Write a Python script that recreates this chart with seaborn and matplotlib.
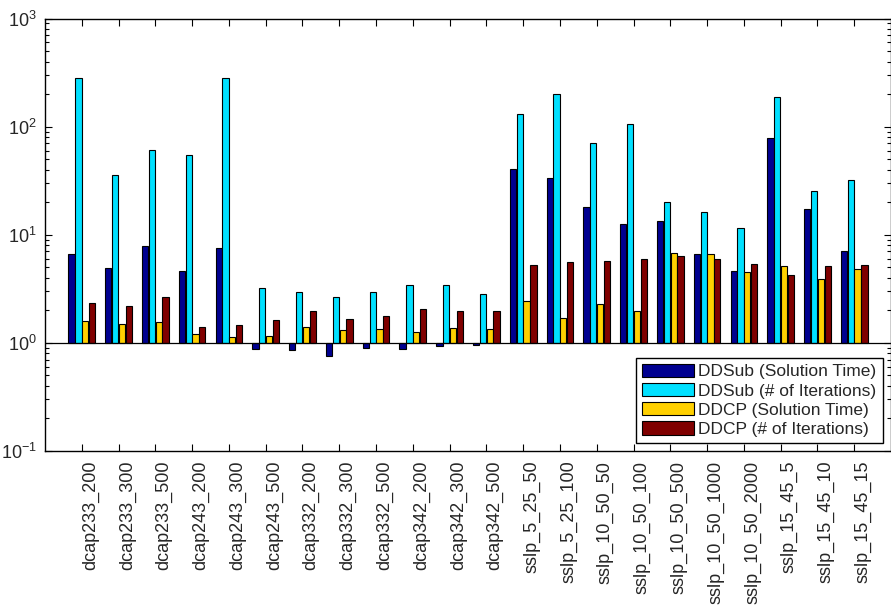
import numpy as np
import pandas as pd
import matplotlib
matplotlib.use("Agg")
import matplotlib.pyplot as plt
import matplotlib.ticker as mticker
import seaborn as sns

instances = ['dcap233_200', 'dcap233_300', 'dcap233_500', 'dcap243_200', 'dcap243_300',
             'dcap243_500', 'dcap332_200', 'dcap332_300', 'dcap332_500', 'dcap342_200',
             'dcap342_300', 'dcap342_500', 'sslp_5_25_50', 'sslp_5_25_100', 'sslp_10_50_50',
             'sslp_10_50_100', 'sslp_10_50_500', 'sslp_10_50_1000', 'sslp_10_50_2000',
             'sslp_15_45_5', 'sslp_15_45_10', 'sslp_15_45_15']

series_names = ['DDSub (Solution Time)', 'DDSub (# of Iterations)',
                'DDCP (Solution Time)', 'DDCP (# of Iterations)']

ddsub_time = [6.6, 4.9, 7.8, 4.6, 7.6, 0.87, 0.86, 0.75, 0.89, 0.87, 0.94,
              0.95, 40.6, 33.5, 18.0, 12.6, 13.5, 6.7, 4.6, 78.5, 17.3, 7.0]
ddsub_iter = [282, 35.4, 60.3, 54.7, 282, 3.23, 2.95, 2.65, 2.95, 3.42, 3.42,
              2.86, 131, 201, 71.1, 105, 20.3, 16.2, 11.5, 186, 25.2, 32.1]
ddcp_time = [1.60, 1.49, 1.57, 1.21, 1.13, 1.16, 1.39, 1.32, 1.34, 1.27, 1.37,
             1.34, 2.43, 1.70, 2.31, 1.99, 6.71, 6.67, 4.54, 5.13, 3.86, 4.81]
ddcp_iter = [2.36, 2.17, 2.67, 1.41, 1.47, 1.64, 1.99, 1.68, 1.77, 2.06, 1.98,
             1.98, 5.2, 5.62, 5.66, 6.03, 6.30, 6.03, 5.42, 4.20, 5.16, 5.24]

colors = ['#000090', '#00E0FF', '#FFD000', '#800000']

ytick_exponents = [-1, 0, 1, 2, 3]

rows = []
for name, vals in zip(series_names, [ddsub_time, ddsub_iter, ddcp_time, ddcp_iter]):
    for inst, v in zip(instances, vals):
        rows.append({'instance': inst, 'series': name, 'value': v})
df = pd.DataFrame(rows)
# bars drawn from the 10^0 baseline on a log10 value axis
df['log_value'] = np.log10(df['value'])

sns.set_style('ticks')
plt.rcParams['font.family'] = ['Liberation Sans', 'DejaVu Sans']
plt.rcParams['mathtext.default'] = 'regular'

fig = plt.figure(figsize=(8.91, 6.12), dpi=100)
ax = fig.add_axes([45 / 891, 1 - 451 / 612, 1 - 45 / 891, (451 - 18.5) / 612])

sns.barplot(data=df, x='instance', y='log_value', hue='series', order=instances,
            hue_order=series_names, palette=colors, saturation=1, width=0.74, gap=0.08,
            edgecolor='black', linewidth=0.8, ax=ax, legend=True)

ax.set_xlim(-1, len(instances))
ax.set_ylim(-1, 3)
ax.axhline(0, color='black', lw=0.9, zorder=3)

ax.yaxis.set_major_locator(mticker.FixedLocator(ytick_exponents))
ax.set_yticklabels([r'$10^{%d}$' % e for e in ytick_exponents])
minors = [np.log10(m) + k for k in range(-1, 3) for m in range(2, 10)]
ax.yaxis.set_minor_locator(mticker.FixedLocator(minors))

ax.set_xticks(range(len(instances)))
ax.set_xticklabels(instances, rotation=90, ha='left', va='top')
ax.set_xlabel('')
ax.set_ylabel('')

ax.tick_params(axis='both', which='both', direction='in', top=True, right=True,
               labelsize=13, color='black', width=0.8)
ax.tick_params(axis='both', which='major', length=5)
ax.tick_params(axis='y', which='minor', length=3)
ax.tick_params(axis='x', pad=7)
ax.tick_params(axis='y', pad=6)

for sp in ax.spines.values():
    sp.set_visible(True)
    sp.set_color('black')
    sp.set_linewidth(1.0)

leg = ax.legend(loc='lower right', bbox_to_anchor=(0.99, 0.0185), fontsize=12.5,
                frameon=True, fancybox=False, edgecolor='black', framealpha=1,
                handlelength=3.0, handleheight=0.8, labelspacing=0.2,
                handletextpad=0.25, borderpad=0.35, borderaxespad=0)
leg.get_frame().set_linewidth(1.0)

fig.savefig('out.png', dpi=100)
